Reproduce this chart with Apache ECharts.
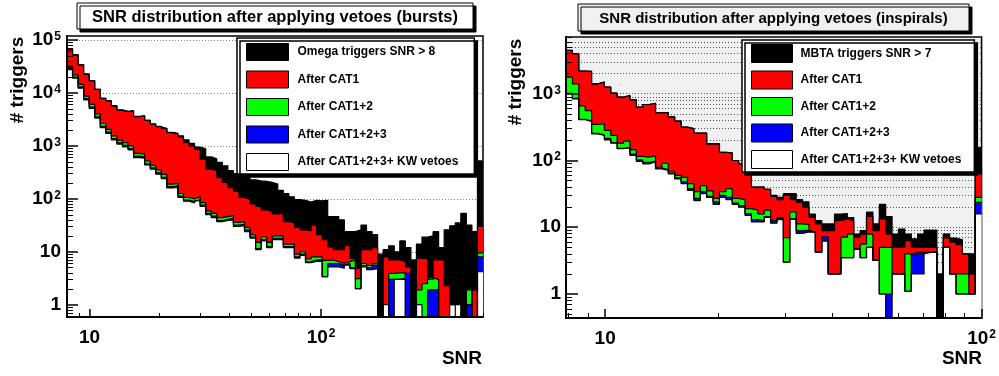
<!DOCTYPE html>
<html><head><meta charset="utf-8"><title>SNR distribution after applying vetoes</title>
<script src="https://cdn.jsdelivr.net/npm/echarts@6.0.0/dist/echarts.min.js"></script>
<style>html,body{margin:0;padding:0;background:#fff;}#chart{width:999px;height:376px;}</style>
</head><body><div id="chart"></div>
<script>
// ---------------- data ----------------
// Left panel (bursts): 75 log-uniform SNR bins from 8 to 500
const L_range = [8, 500];
const L_nBins = 75;
const L_names = ['Omega triggers SNR > 8', 'After CAT1', 'After CAT1+2', 'After CAT1+2+3', 'After CAT1+2+3+ KW vetoes'];
const L_black = [69000,53000,34000,23000,17000,11700,7900,7100,5700,4800,
  4500,4600,3600,3700,3050,2600,2350,2150,1800,1720,
  1550,1300,1120,950,880,620,570,490,420,340,
  300,290,250,228,218,215,204,190,145,126,
  109,97,94,87,94,92,94,46,46,40,
  24,24,26,32,24,21,9,11,13,10,
  16,12,7,14,19,20,24,12,26,31,
  35,53,32,24,520];
const L_red = [66000,52000,34000,22500,17000,11700,7900,7100,5700,4700,
  4450,4600,3550,3700,3050,2550,2300,2130,1780,1700,
  1480,1150,1000,870,560,365,340,250,205,163,
  140,106,98,80,72,62,58,52,53,37,
  35,29,26,25,32,21,17,12.4,11,11,
  13,7.5,4.9,11,11,12,0,8,7,7,
  6.5,5.2,0,7.5,7.5,3,7,7,2.3,1,
  0,0,0,1.9,30];
const L_green = [32000,22000,14500,8700,6100,4000,2650,2050,1550,1280,
  1150,1000,720,700,520,430,350,290,190,195,
  126,106,100,109,85,59,53,44,46,48,
  36,37,29,21,15,19,15,20,20,14,
  14,9,10,7.3,8,8,6.9,7,6.5,6,
  6.5,7,3.1,6,5.5,6,0,0,3.9,4,
  4,0,0,1.9,2.5,3.2,3,0,0,0,
  0,0,1.9,0,9.5];
const L_blue = [29000,20000,13000,7800,5400,3550,2350,1820,1380,1140,
  1020,890,640,620,460,385,310,255,170,175,
  112,95,89,97,76,53,47,39,41,43,
  32,33,26,19,11.5,17,12.5,18,18,12.5,
  12.5,8,9,6.5,7,7,3.4,6,6,5.6,
  6,5,2,5.5,5,5.6,0,0,3,3,
  3.2,3.9,0,0,0,1.9,1.9,0,0,0,
  0,0,1,0,8];
const L_white = [27500,19000,12300,7400,5100,3350,2220,1720,1300,1080,
  960,840,600,585,435,365,292,240,160,165,
  106,90,84,92,72,50,44,37,39,40,
  30,31,24,18,11,16,12,17,17,12,
  12,7.6,8.5,6.2,6.6,6.6,3.4,5.2,5.2,4.9,
  5.6,4.8,2,5.2,4.6,4.8,0,1,0,3,
  3,0,0,1,0,0,0,0,0,1,
  1,0,0,0,4.2];

// Right panel (inspirals): 65 log-uniform SNR bins from 7.87 to 100
const R_range = [7.87, 100];
const R_nBins = 65;
const R_names = ['MBTA triggers SNR > 7', 'After CAT1', 'After CAT1+2', 'After CAT1+2+3', 'After CAT1+2+3+ KW vetoes'];
const R_black = [4470,4000,2190,2170,1410,1500,1260,1020,890,940,
  810,630,690,720,520,520,450,390,316,300,
  257,257,178,178,133,130,100,90,66,40,
  40,37,30,28,32,32,26,24,15.8,12.6,
  11.2,11.2,15.8,16,14,7.9,8.9,16.8,11.2,22,
  14.5,7.9,9.4,7.9,6.7,7.9,9.1,9.1,2,7.9,
  6.9,6.5,4,4,158];
const R_red = [4470,4000,2190,2170,1410,1500,1260,1020,890,940,
  810,630,690,720,520,520,450,390,316,300,
  257,257,178,178,133,130,100,90,66,40,
  40,37,29,26,30,26,23.7,20,14,11.2,
  8.9,8.9,12.6,13.3,12.6,7.1,7.9,14.5,8.9,13.3,
  7.9,5,5,6.3,5,5,5,5,0,6.9,
  6,5.5,4,2,63];
const R_green = [1780,1410,660,560,347,355,282,238,182,195,
  145,115,112,117,79,91,69,60,56,45,
  34,42,35,27,34,38,27,26,19,18,
  15.8,18,12.6,14,7,17,11.2,11,8.6,4.3,
  7.1,2,2,7.1,7.9,4.7,5.6,7.9,3.2,5,
  5,2,2,4,4.2,4.2,4.2,4.2,0,5,
  2,2,2,1,28];
const R_blue = [1010,850,415,390,255,242,215,186,152,158,
  125,102,94,98,77,73,65,55,48,38,
  27,34,29,24,30,28,23,21,16,13,
  12.5,14.5,12,13.5,3,13.5,8.9,9,8.5,4.2,
  7.1,2,2,3.5,3.5,4.7,3.5,5,3.2,1,
  1,2,2,1.1,4,4,4.2,4.2,0,5,
  2,1,1,1,23.7];
const R_white = [1000,840,410,385,250,237,204,182,150,155,
  119,97,89,95,75,71,63,53,45,35.5,
  25,32,28,22,28,26,22,20,15,12,
  12,14,11.5,13,3,13.2,8.1,8.5,8.4,4.2,
  6.2,2,2,3.5,3.5,4.7,3.5,5,3.2,1,
  0,2,2,1.1,2,2,4.2,4.2,0,5,
  2,1,1,1,15.8];

// axis tick labels
const L_xMajor = [10, 100];
const L_yMajor = [1, 10, 100, 1000, 10000, 100000];
const R_xMajor = [10, 100];
const R_yMajor = [1, 10, 100, 1000];
const L_yRange = [0.586, 119000];
const R_yRange = [0.437, 7080];

const L_title = 'SNR distribution after applying vetoes (bursts)';
const R_title = 'SNR distribution after applying vetoes (inspirals)';
const yName = '# triggers';
const xName = 'SNR';

// ---------------- build ----------------
const FF = '"Liberation Sans", Arial, Helvetica, sans-serif';
const fills = ['#000000', '#ff0000', '#00ff00', '#0000ff', '#ffffff'];

function logEdges(range, n) {
  const a = Math.log10(range[0]), b = Math.log10(range[1]);
  const e = [];
  for (let i = 0; i <= n; i++) e.push(Math.pow(10, a + (b - a) * i / n));
  return e;
}
function hist(edges, vals) {
  const d = [];
  const f = v => (v > 0 ? v : 1e-3);
  for (let i = 0; i < vals.length; i++) d.push([edges[i], f(vals[i])]);
  d.push([edges[vals.length], f(vals[vals.length - 1])]);
  return d;
}
function minorTicks(lo, hi) {
  const t = [];
  for (let e = -2; e <= 6; e++) for (let m = 2; m <= 9; m++) {
    const v = m * Math.pow(10, e);
    if (v > lo && v < hi) t.push(v);
  }
  return t;
}
function expLabel(v) {
  const e = Math.round(Math.log10(v));
  if (e === 0) return '1';
  if (e === 1) return '10';
  return '10{sup|' + e + '}';
}
const RICH = { sup: { fontSize: 12, fontWeight: 'bold', fontFamily: FF, color: '#000', verticalAlign: 'top', padding: [0, 0, 0, 1] } };

function mainAxis(kind, grid, range, ticks, tickLen, margin) {
  return {
    gridIndex: grid, type: 'log', logBase: 10, min: range[0], max: range[1],
    position: kind === 'x' ? 'bottom' : 'left', z: 10,
    axisLine: { show: true, onZero: false, lineStyle: { color: '#000', width: 2 } },
    axisTick: { show: true, inside: true, length: tickLen, customValues: ticks, lineStyle: { color: '#000', width: 1.5 } },
    axisLabel: { show: true, customValues: ticks, formatter: expLabel, margin: margin, color: '#000',
      fontSize: 19, fontWeight: 'bold', fontFamily: FF, showMinLabel: true, showMaxLabel: true, hideOverlap: false, rich: RICH },
    splitLine: { show: false }, minorTick: { show: false }
  };
}
function minorAxis(kind, grid, range, ticks, tickLen) {
  return {
    gridIndex: grid, type: 'log', logBase: 10, min: range[0], max: range[1],
    position: kind === 'x' ? 'bottom' : 'left', z: 10,
    axisLine: { show: false, onZero: false },
    axisTick: { show: true, inside: true, length: tickLen, customValues: ticks, lineStyle: { color: '#000', width: 1 } },
    axisLabel: { show: false }, splitLine: { show: false }
  };
}
function gridLineAxis(grid, range, ticks, color) {
  return {
    gridIndex: grid, type: 'log', logBase: 10, min: range[0], max: range[1], position: 'left', z: 1,
    axisLine: { show: false, onZero: false },
    axisTick: { show: false, customValues: ticks },
    axisLabel: { show: false },
    splitLine: { show: true, lineStyle: { color: color, width: 1, type: [1, 2] } }
  };
}

const Lx = logEdges(L_range, L_nBins), Rx = logEdges(R_range, R_nBins);
const L_sets = [L_black, L_red, L_green, L_blue, L_white];
const R_sets = [R_black, R_red, R_green, R_blue, R_white];

function mkSeries(name, xi, yi, data, fill) {
  return {
    type: 'line', name: name, xAxisIndex: xi, yAxisIndex: yi, data: data, step: 'end',
    symbol: 'none', showSymbol: false, clip: true, silent: true, z: 2,
    lineStyle: { color: '#000', width: 1.2 },
    itemStyle: { color: fill },
    areaStyle: { color: fill, opacity: 1, origin: 'start' },
    emphasis: { disabled: true }
  };
}
const series = [];
L_sets.forEach((v, i) => series.push(mkSeries(L_names[i], 0, 0, hist(Lx, v), fills[i])));
R_sets.forEach((v, i) => series.push(mkSeries(R_names[i], 2, 3, hist(Rx, v), fills[i])));

const L_yMinor = minorTicks(L_yRange[0], L_yRange[1]);
const R_yMinor = minorTicks(R_yRange[0], R_yRange[1]);
const L_xMinor = minorTicks(L_range[0], L_range[1] + 1);
const R_xMinor = minorTicks(R_range[0], R_range[1]);
const R_yAll = R_yMajor.concat(R_yMinor).sort((a, b) => a - b);

function legendCfg(names, left, top, pad, iw, ih, gap, textPad) {
  return {
    orient: 'vertical', left: left, top: top, padding: pad, itemWidth: iw, itemHeight: ih, itemGap: gap,
    icon: 'rect', selectedMode: false, z: 20,
    backgroundColor: '#ffffff', borderColor: '#000', borderWidth: 1.5, borderRadius: 0,
    shadowColor: '#000', shadowBlur: 0, shadowOffsetX: 3, shadowOffsetY: 3,
    textStyle: { fontSize: 12, fontWeight: 'bold', fontFamily: FF, color: '#000', padding: [0, 0, 0, textPad] },
    data: names.map((n, i) => ({ name: n, icon: 'rect', itemStyle: { color: fills[i], borderColor: '#000', borderWidth: 1 } }))
  };
}

function titleBox(x, y, w, h, fill, text, size) {
  return [
    { type: 'rect', z: 30, shape: { x: x, y: y, width: w, height: h },
      style: { fill: fill, stroke: '#000', lineWidth: 1, shadowColor: '#000', shadowBlur: 0, shadowOffsetX: 3, shadowOffsetY: 3 } },
    { type: 'text', z: 31, x: x + w / 2, y: y + h / 2 + 1,
      style: { text: text, font: 'bold ' + size + 'px ' + FF, fill: '#000', align: 'center', verticalAlign: 'middle', textAlign: 'center', textVerticalAlign: 'middle' } }
  ];
}
function label(x, y, text, size, rot, align) {
  return { type: 'text', z: 31, x: x, y: y, rotation: rot || 0,
    style: { text: text, font: 'bold ' + size + 'px ' + FF, fill: '#000', align: align, verticalAlign: 'middle', textAlign: align, textVerticalAlign: 'middle' } };
}

const option = {
  animation: false,
  backgroundColor: '#ffffff',
  grid: [
    { left: 67, top: 36, width: 416, height: 281, show: true, backgroundColor: '#ffffff', borderColor: '#000', borderWidth: 1.5, z: 0 },
    { left: 566, top: 37, width: 416, height: 281, show: true, backgroundColor: '#f0f0f0', borderColor: '#000', borderWidth: 1.5, z: 0 }
  ],
  xAxis: [
    mainAxis('x', 0, L_range, L_xMajor, 8, 11),
    minorAxis('x', 0, L_range, L_xMinor, 4),
    mainAxis('x', 1, R_range, R_xMajor, 9, 11),
    minorAxis('x', 1, R_range, R_xMinor, 5)
  ],
  yAxis: [
    mainAxis('y', 0, L_yRange, L_yMajor, 11, 6),
    minorAxis('y', 0, L_yRange, L_yMinor, 6),
    gridLineAxis(0, L_yRange, L_yMajor, '#808080'),
    mainAxis('y', 1, R_yRange, R_yMajor, 12, 5),
    minorAxis('y', 1, R_yRange, R_yMinor, 6),
    gridLineAxis(1, R_yRange, R_yAll, '#555555')
  ],
  legend: [
    legendCfg(L_names, 237, 38, [5, 16, 3, 9], 42, 17, 9.5, 4),
    legendCfg(R_names, 742, 40, [4, 13, 3, 9], 41, 18, 7.5, 3)
  ],
  graphic: [].concat(
    titleBox(77, 3, 396, 26, '#ffffff', L_title, 16.5),
    titleBox(578, 4, 391, 27, '#f0f0f0', R_title, 15),
    [label(18, 80, yName, 19, Math.PI / 2, 'center'),
     label(516, 82, yName, 19, Math.PI / 2, 'center'),
     label(482, 359, xName, 19, 0, 'right'),
     label(982, 359, xName, 19, 0, 'right')]
  ),
  series: series
};

const chart = echarts.init(document.getElementById('chart'), null, { renderer: 'canvas' });
chart.setOption(option);
</script></body></html>
